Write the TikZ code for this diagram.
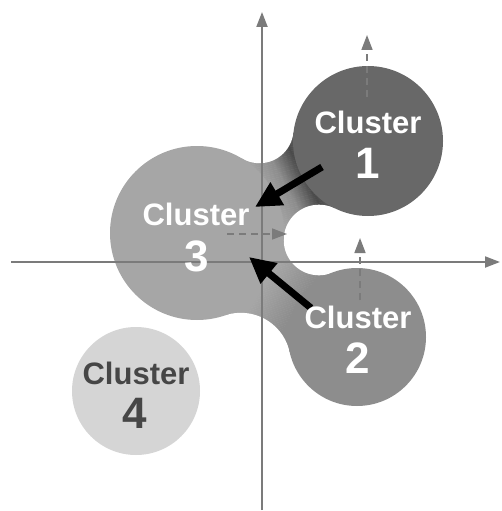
\documentclass[tikz,border=0pt]{standalone}
\usepackage{fontspec}
\setmainfont{Liberation Sans}
\usetikzlibrary{arrows.meta}

\definecolor{clA}{HTML}{686868}      % cluster 1
\definecolor{clB}{HTML}{8D8D8D}      % cluster 2
\definecolor{clC}{HTML}{A6A6A6}      % cluster 3
\definecolor{clD}{HTML}{D5D5D5}      % cluster 4
\definecolor{neckmid}{HTML}{8E8E8E}
\definecolor{neckdark}{HTML}{4A4A4A}
\definecolor{axisgray}{HTML}{7B7B7B}
\definecolor{labeldark}{HTML}{464646}

% colour ramp made of thin strips along the local x axis, from s=#1 to s=#2
\newcommand{\gradstrips}[4]{%
  \pgfmathtruncatemacro{\gsend}{#2-1}%
  \foreach \s in {#1,...,\gsend}{%
    \pgfmathsetmacro{\gsp}{100*(\s-#1)/(#2-#1)}%
    \fill[#4!\gsp!#3] (\s,-95) rectangle (\s+1.4,95);
  }%
}

\tikzset{
  axisline/.style={draw=axisgray, line width=2pt,
    -{Triangle[length=15pt,width=11pt]}},
  moveline/.style={draw=axisgray, line width=1.6pt, dash pattern=on 7pt off 5pt,
    -{Triangle[length=15pt,width=11pt]}},
  pullarrow/.style={draw=black, line width=7pt,
    -{Triangle[length=26pt,width=25pt]}},
  wordlabel/.style={anchor=base, inner sep=0pt, font=\fontsize{31}{31}\selectfont\bfseries},
  numlabel/.style={anchor=base, inner sep=0pt, font=\fontsize{44}{44}\selectfont\bfseries},
}

\begin{document}
\begin{tikzpicture}[x=1pt, y=-1pt]
\useasboundingbox (0,0) rectangle (502,511);

% cluster centres and fillet circles
\coordinate (c1) at (368,141);
\coordinate (c2) at (357,337);
\coordinate (c3) at (197,233);
\coordinate (c4) at (136,391);
\coordinate (f1) at (259.5,129.2);   % upper fillet between 3 and 1
\coordinate (nt) at (319,240);       % notch between 1, 2 and 3
\coordinate (f2) at (240.8,362.8);   % lower fillet between 3 and 2

% neck joining cluster 3 and cluster 1
\begin{scope}
  \clip (c3) -- (f1) -- (c1) -- (nt) -- cycle;
  \begin{scope}[shift={(c3)}, rotate=28.28]
    \fill[clC] (0,-95) rectangle (79,95);
    \gradstrips{78}{100}{clC}{neckmid}
    \gradstrips{100}{121}{neckmid}{neckdark}
    \gradstrips{121}{135}{neckdark}{clA}
    \fill[clA] (135,-95) rectangle (200,95);
  \end{scope}
\end{scope}

% neck joining cluster 3 and cluster 2
\begin{scope}
  \clip (c3) -- (nt) -- (c2) -- (f2) -- cycle;
  \begin{scope}[shift={(c3)}, rotate=-33.03]
    \fill[clC] (0,-95) rectangle (86,95);
    \gradstrips{85}{124}{clC}{clB}
    \fill[clB] (124,-95) rectangle (200,95);
  \end{scope}
\end{scope}

% concave fillets cut out of the necks
\fill[white] (f1) circle[radius=34pt];
\fill[white] (nt) circle[radius=35.3pt];
\fill[white] (f2) circle[radius=50pt];

% cluster discs
\fill[clA] (c1) circle[radius=75pt];
\fill[clB] (c2) circle[radius=69pt];
\fill[clC] (c3) circle[radius=87pt];
\fill[clD] (c4) circle[radius=64pt];

% axes
\coordinate (xs) at (11,262);
\coordinate (xe) at (500,262);
\coordinate (ys) at (262,510);
\coordinate (ye) at (262,12);
\draw[axisline] (xs) -- (xe);
\draw[axisline] (ys) -- (ye);

% movement directions
\coordinate (m1s) at (367,97);
\coordinate (m1e) at (367,35);
\coordinate (m2s) at (360,300);
\coordinate (m2e) at (360,238);
\coordinate (m3s) at (227,234);
\coordinate (m3e) at (287,234);
\draw[moveline] (m1s) -- (m1e);
\draw[moveline] (m2s) -- (m2e);
\draw[moveline] (m3s) -- (m3e);

% attraction towards cluster 3
\coordinate (p1s) at (322,167);
\coordinate (p1e) at (255,207);
\coordinate (p2s) at (311,308);
\coordinate (p2e) at (249,257);
\draw[pullarrow] (p1s) -- (p1e);
\draw[pullarrow] (p2s) -- (p2e);

% labels
\node[wordlabel, text=white] (t1) at (368,133) {Cluster};
\node[numlabel, text=white] (n1) at (368,178) {1};
\node[wordlabel, text=white] (t2) at (358,328) {Cluster};
\node[numlabel, text=white] (n2) at (358,373) {2};
\node[wordlabel, text=white] (t3) at (196,225) {Cluster};
\node[numlabel, text=white] (n3) at (197,271) {3};
\node[wordlabel, text=labeldark] (t4) at (136,384) {Cluster};
\node[numlabel, text=labeldark] (n4) at (135,428) {4};
\end{tikzpicture}
\end{document}
